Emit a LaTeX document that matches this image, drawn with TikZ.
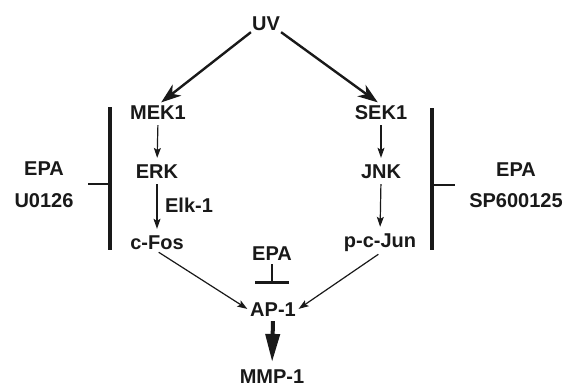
\documentclass[tikz,border=0pt]{standalone}
\usepackage{fontspec}
\setmainfont{Liberation Sans}
\usetikzlibrary{arrows.meta}
\begin{document}
\begin{tikzpicture}[x=1pt,y=-1pt,
  lbl/.style={font=\fontsize{20}{22}\selectfont\bfseries, inner sep=1pt, text=black!90},
  thinarr/.style={-{Stealth[length=10pt,width=7pt,inset=2pt]}, line width=1.2pt, draw=black!90},
  midarr/.style={-{Stealth[length=20pt,width=14pt,inset=6pt]}, line width=2.4pt, draw=black!90},
  bigarr/.style={-{Triangle[length=28pt,width=14pt]}, line width=4pt, draw=black!90},
  barline/.style={line width=3.2pt, draw=black!90},
  tick/.style={line width=1.2pt, draw=black!90}]
\useasboundingbox (0,0) rectangle (567,388);
\node[lbl] (UV) at (266,24) {UV};
\node[lbl] (MEK1) at (158,113) {MEK1};
\node[lbl] (SEK1) at (381,113) {SEK1};
\node[lbl] (ERK) at (157,172) {ERK};
\node[lbl] (JNK) at (381,172) {JNK};
\node[lbl] (Elk) at (189,205) {Elk-1};
\node[lbl] (cFos) at (157,243) {c-Fos};
\node[lbl] (pcJun) at (380,243) {p-c-Jun};
\node[lbl] (EPAl) at (44,169) {EPA};
\node[lbl] (U0126) at (44,201) {U0126};
\node[lbl] (EPAr) at (516,170) {EPA};
\node[lbl] (SP) at (516,201) {SP600125};
\node[lbl] (EPAm) at (272,254) {EPA};
\node[lbl] (AP1) at (273,310) {AP-1};
\node[lbl] (MMP1) at (272,377) {MMP-1};

\draw[midarr, shorten >=4pt] (UV.south west) -- (MEK1.north);
\draw[midarr, shorten >=4pt] (UV.south east) -- (SEK1.north);
\draw[thinarr, shorten <=4pt, shorten >=6pt] (MEK1.south) -- (ERK.north);
\draw[thinarr, shorten <=4pt, shorten >=6pt] (SEK1.south) -- (JNK.north);
\draw[thinarr, shorten <=4pt, shorten >=6pt] (ERK.south) -- (cFos.north);
\draw[thinarr, shorten <=4pt, shorten >=6pt] (JNK.south) -- (pcJun.north);
\draw[thinarr, shorten <=2pt, shorten >=2pt] (cFos.south) -- (AP1.west);
\draw[thinarr, shorten <=2pt, shorten >=2pt] (pcJun.south) -- (AP1.east);
\coordinate (inh) at (272,284);
\draw[line width=1.2pt, draw=black!90, shorten <=2pt, -{Bar[width=34pt,line width=3pt]}] (EPAm.south) -- (inh);
\draw[bigarr, shorten <=3pt, shorten >=7pt] (AP1.south) -- (MMP1.north);

\coordinate (lbt) at (110,107);
\coordinate (lbb) at (110,250);
\coordinate (lt) at (88,184);
\coordinate (lt2) at (110,184);
\draw[barline] (lbt) -- (lbb);
\draw[tick] (lt) -- (lt2);
\coordinate (rbt) at (432,108);
\coordinate (rbb) at (432,250);
\coordinate (rt) at (432,185);
\coordinate (rt2) at (455,185);
\draw[barline] (rbt) -- (rbb);
\draw[tick] (rt) -- (rt2);
\end{tikzpicture}
\end{document}
